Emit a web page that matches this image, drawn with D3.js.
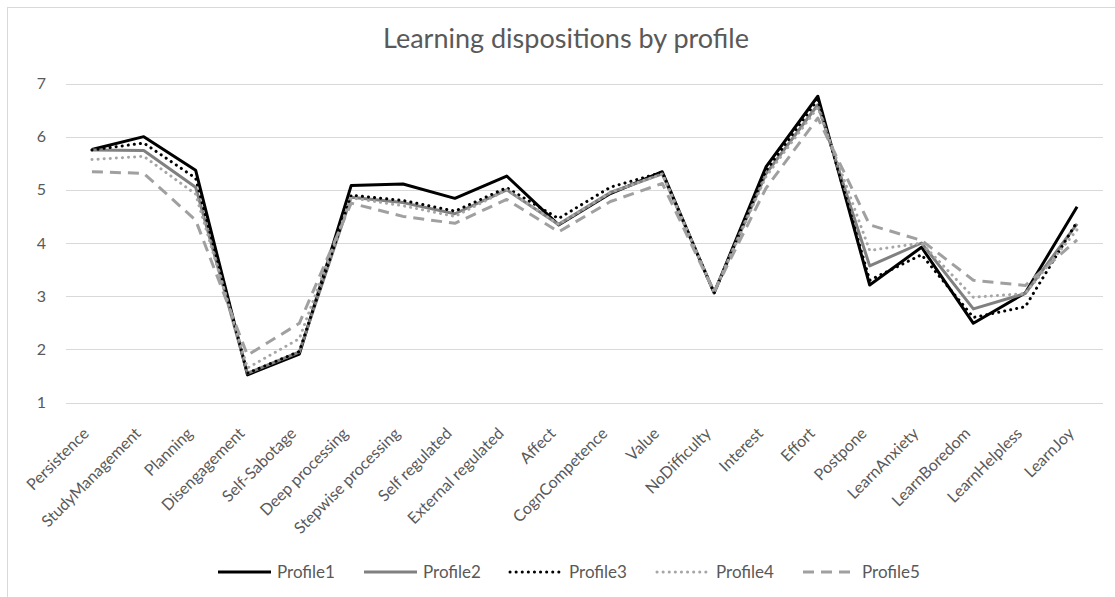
<!DOCTYPE html>
<html>
<head>
<meta charset="utf-8">
<title>Learning dispositions by profile</title>
<script src="https://d3js.org/d3.v7.min.js"></script>
<style>
  body { margin: 0; background: #fff; }
  svg text { font-family: Lato, "Open Sans", sans-serif; fill: #595959; }
</style>
</head>
<body>
<div id="chart"></div>
<script>
// categories along the x axis
var categories = ['Persistence', 'StudyManagement', 'Planning', 'Disengagement', 'Self-Sabotage',
  'Deep processing', 'Stepwise processing', 'Self regulated', 'External regulated', 'Affect',
  'CognCompetence', 'Value', 'NoDifficulty', 'Interest', 'Effort', 'Postpone', 'LearnAnxiety',
  'LearnBoredom', 'LearnHelpless', 'LearnJoy'];

var profile1 = [5.76, 6.00, 5.37, 1.52, 1.91, 5.08, 5.11, 4.84, 5.26, 4.34, 4.93, 5.34, 3.06, 5.43, 6.76, 3.21, 3.92, 2.49, 3.06, 4.68];
var profile2 = [5.75, 5.74, 5.05, 1.55, 1.95, 4.86, 4.76, 4.55, 5.00, 4.35, 4.95, 5.30, 3.07, 5.30, 6.60, 3.57, 4.00, 2.76, 3.05, 4.36];
var profile3 = [5.75, 5.88, 5.22, 1.55, 1.96, 4.90, 4.80, 4.60, 5.04, 4.46, 5.05, 5.33, 3.06, 5.36, 6.70, 3.30, 3.78, 2.60, 2.80, 4.40];
var profile4 = [5.57, 5.63, 4.92, 1.65, 2.20, 4.85, 4.70, 4.50, 5.00, 4.35, 4.95, 5.30, 3.08, 5.25, 6.55, 3.86, 4.00, 2.98, 3.05, 4.25];
var profile5 = [5.34, 5.31, 4.43, 1.89, 2.49, 4.75, 4.50, 4.37, 4.82, 4.21, 4.78, 5.12, 3.08, 5.03, 6.35, 4.34, 4.05, 3.30, 3.20, 4.06];

var seriesNames = ['Profile1', 'Profile2', 'Profile3', 'Profile4', 'Profile5'];
var yTicks = [1, 2, 3, 4, 5, 6, 7];

var series = [
  { name: seriesNames[0], values: profile1, color: '#000000', dash: null, cap: 'butt' },
  { name: seriesNames[1], values: profile2, color: '#808080', dash: null, cap: 'butt' },
  { name: seriesNames[2], values: profile3, color: '#000000', dash: '0.1,6', cap: 'round' },
  { name: seriesNames[3], values: profile4, color: '#a6a6a6', dash: '0.1,6', cap: 'round' },
  { name: seriesNames[4], values: profile5, color: '#a0a0a0', dash: '11,7', cap: 'butt' }
];

var width = 1115, height = 597;
var plot = { left: 66, right: 1103, top: 83.5, bottom: 402.5 };

var svg = d3.select('#chart').append('svg')
  .attr('width', width)
  .attr('height', height);

// chart frame
svg.append('rect')
  .attr('x', 7.5).attr('y', 7.5)
  .attr('width', width + 10).attr('height', height + 10)
  .attr('fill', '#fff')
  .attr('stroke', '#d9d9d9');

var x = d3.scaleBand()
  .domain(categories)
  .range([plot.left, plot.right]);

var y = d3.scaleLinear()
  .domain([1, 7])
  .range([plot.bottom, plot.top]);

// title
svg.append('text')
  .attr('x', 566).attr('y', 48)
  .attr('text-anchor', 'middle')
  .style('font-size', '27px')
  .text('Learning dispositions by profile');

// gridlines
svg.append('g')
  .selectAll('line')
  .data(yTicks)
  .enter().append('line')
    .attr('x1', plot.left).attr('x2', plot.right)
    .attr('y1', function (d) { return Math.round(y(d)) + 0.5; })
    .attr('y2', function (d) { return Math.round(y(d)) + 0.5; })
    .attr('stroke', '#d9d9d9');

// y axis labels
var yAxis = svg.append('g')
  .attr('transform', 'translate(' + (plot.left - 20) + ',0)')
  .call(d3.axisLeft(y).tickValues(yTicks).tickFormat(d3.format('d')).tickSize(0).tickPadding(0));
yAxis.select('.domain').remove();
yAxis.selectAll('text')
  .attr('text-anchor', 'end')
  .style('font-size', '16px')
  .style('font-family', 'Lato, "Open Sans", sans-serif')
  .attr('fill', '#595959');

// x axis labels, rotated
svg.append('g')
  .selectAll('text')
  .data(categories)
  .enter().append('text')
    .attr('transform', function (d) {
      return 'translate(' + (x(d) + x.bandwidth() / 2 - 2) + ',' + (plot.bottom + 32) + ') rotate(-45)';
    })
    .attr('text-anchor', 'end')
    .style('font-size', '16px')
    .text(function (d) { return d; });

var line = d3.line()
  .x(function (d, i) { return x(categories[i]) + x.bandwidth() / 2; })
  .y(function (d) { return y(d); });

svg.append('g')
  .selectAll('path')
  .data(series)
  .enter().append('path')
    .attr('d', function (s) { return line(s.values); })
    .attr('fill', 'none')
    .attr('stroke', function (s) { return s.color; })
    .attr('stroke-width', 3)
    .attr('stroke-linejoin', 'round')
    .attr('stroke-linecap', function (s) { return s.cap; })
    .attr('stroke-dasharray', function (s) { return s.dash; });

// legend
var legendX = [218, 364, 510, 657, 803];
var legend = svg.append('g')
  .selectAll('g')
  .data(series)
  .enter().append('g')
    .attr('transform', function (s, i) { return 'translate(' + legendX[i] + ',572)'; });

legend.append('line')
  .attr('x1', 0).attr('x2', 53)
  .attr('stroke', function (s) { return s.color; })
  .attr('stroke-width', 3)
  .attr('stroke-linecap', function (s) { return s.cap; })
  .attr('stroke-dasharray', function (s) { return s.dash; });

legend.append('text')
  .attr('x', 59).attr('y', 6)
  .style('font-size', '17px')
  .text(function (s) { return s.name; });
</script>
</body>
</html>
